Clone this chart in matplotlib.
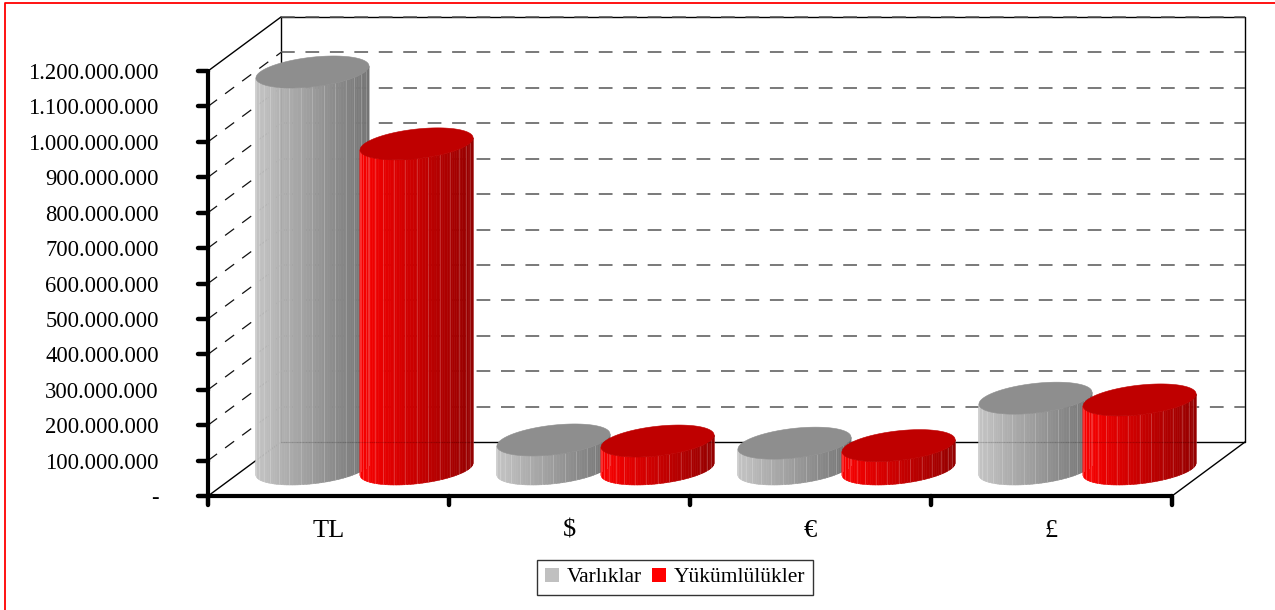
import numpy as np
import matplotlib
matplotlib.use('Agg')
import matplotlib.pyplot as plt
from matplotlib.collections import PolyCollection
from matplotlib.colors import to_rgb
from matplotlib.lines import Line2D
from matplotlib.markers import MarkerStyle, TICKDOWN, TICKLEFT
from matplotlib.patches import Patch, Polygon

plt.rcParams['font.family'] = ['Liberation Serif', 'DejaVu Serif']

categories = ['TL', '$', '€', '£']
varliklar = [1121000000, 82000000, 73000000, 200000000]
yukumlulukler = [918000000, 79000000, 66000000, 195000000]
yticks = [0, 100000000, 200000000, 300000000, 400000000, 500000000, 600000000,
          700000000, 800000000, 900000000, 1000000000, 1100000000, 1200000000]
ylabels = ['-', '100.000.000', '200.000.000', '300.000.000', '400.000.000',
           '500.000.000', '600.000.000', '700.000.000', '800.000.000',
           '900.000.000', '1.000.000.000', '1.100.000.000', '1.200.000.000']

W, H = 1275, 610
L, R, T, B = 208, 1172, 71, 496
ymax = 1200000000
# pixels per data unit
px_x = (R - L) / len(categories)
px_y = (B - T) / ymax
# depth of the floor, as data units
depth_x = 73 / px_x
depth_y = 54 / px_y
# cylinder shape
rad_x = 52.4 / px_x
skew_x = 21.2 / px_x
rad_y = 16 / px_y
offsets = [-0.218, 0.214]

fig = plt.figure(figsize=(W / 100, H / 100), dpi=100)
ax = fig.add_axes([L / W, 1 - B / H, (R - L) / W, (B - T) / H])
ax.set_xlim(0, len(categories))
ax.set_ylim(0, ymax)
ax.patch.set_alpha(0)

# only the top and left of the red frame are inside the picture
fig.add_artist(Line2D([4.5 / W, 4.5 / W, 1], [0, 1 - 2.5 / H, 1 - 2.5 / H], transform=fig.transFigure,
                      color='#ff0000', lw=1.3))


def wall_lines():
    for v in yticks[1:-1]:
        ax.plot([0, depth_x], [v, v + depth_y], color='#111111', lw=0.9, dashes=(9, 8),
                clip_on=False, zorder=1)
    for v in yticks[1:]:
        ax.plot([depth_x, len(categories) + depth_x], [v + depth_y, v + depth_y], color='#555555',
                lw=1.1, dashes=(9, 7), clip_on=False, zorder=1)


def ellipse_pt(t, cx, cy):
    return cx + rad_x * np.cos(t) + skew_x * np.sin(t), cy + rad_y * np.sin(t)


def cylinder(xc, value, light, dark, top, boost):
    base = depth_y / 2
    # strips along the front half, left silhouette to right silhouette
    t0 = np.arctan2(skew_x, rad_x)
    ts = np.linspace(t0 + np.pi, t0 + 2 * np.pi, 61)
    polys = []
    cols = []
    for i in range(60):
        x1, y1 = ellipse_pt(ts[i], xc, base)
        x2, y2 = ellipse_pt(ts[i + 1], xc, base)
        x3, y3 = ellipse_pt(ts[i + 1], xc, base + value)
        x4, y4 = ellipse_pt(ts[i], xc, base + value)
        polys.append([(x1, y1), (x2, y2), (x3, y3), (x4, y4)])
        f = (x1 - (xc - rad_x - skew_x)) / (2 * (rad_x + skew_x))
        f = np.clip(f, 0, 1)
        # brightest a little right of the left edge
        if f < 0.1:
            c = np.array(boost) + (np.array(light) - np.array(boost)) * f / 0.1
        else:
            c = np.array(light) + (np.array(dark) - np.array(light)) * ((f - 0.1) / 0.9) ** 0.95
        cols.append(c)
    ax.add_collection(PolyCollection(polys, facecolors=cols, edgecolors=cols, linewidths=0.4,
                                     clip_on=False, zorder=3), autolim=False)
    # pale seams between the facets
    for k in range(2, 60, 4):
        x1, y1 = ellipse_pt(ts[k], xc, base)
        x2, y2 = ellipse_pt(ts[k], xc, base + value)
        ax.plot([x1, x2], [y1, y2], color='white', lw=0.6, alpha=0.22, clip_on=False, zorder=3.1)
    tt = np.linspace(0, 2 * np.pi, 121)
    ex, ey = ellipse_pt(tt, xc, base + value)
    ax.add_patch(Polygon(np.column_stack([ex, ey]), closed=True, facecolor=top, edgecolor=top,
                         linewidth=0.4, clip_on=False, zorder=3.2))


# back wall and floor outline
n = len(categories)
ax.plot([depth_x, depth_x, n + depth_x, n + depth_x, depth_x],
        [depth_y, ymax + depth_y, ymax + depth_y, depth_y, depth_y],
        color='black', lw=1.0, clip_on=False, zorder=1)
ax.plot([0, depth_x], [0, depth_y], color='black', lw=1.0, clip_on=False, zorder=1)
ax.plot([n, n + depth_x], [0, depth_y], color='black', lw=1.0, clip_on=False, zorder=1)
ax.plot([0, depth_x], [ymax, ymax + depth_y], color='black', lw=1.0, clip_on=False, zorder=1)
wall_lines()

grey_l = to_rgb('#c6c6c6')
grey_d = to_rgb('#686868')
grey_b = to_rgb('#b4b4b4')
red_l = to_rgb('#ff0000')
red_d = to_rgb('#850000')
red_b = to_rgb('#e60000')
for i in range(n):
    cylinder(i + 0.5 + offsets[0] + depth_x / 2, varliklar[i], grey_l, grey_d, '#8e8e8e', grey_b)
    cylinder(i + 0.5 + offsets[1] + depth_x / 2, yukumlulukler[i], red_l, red_d, '#bf0000', red_b)

# floor line shows faintly through the cylinders
ax.plot([depth_x, n + depth_x], [depth_y, depth_y], color='black', lw=0.8, alpha=0.13,
        clip_on=False, zorder=3.15)

ax.set_yticks(yticks)
ax.set_yticklabels(ylabels)
ax.set_xticks(range(n + 1))
ax.set_xticklabels([])
ax.set_xticks(np.arange(n) + 0.5, minor=True)
ax.set_xticklabels(categories, minor=True)
ax.tick_params(axis='y', which='major', length=7, width=3.2, pad=28.5, labelsize=16.3)
ax.tick_params(axis='x', which='major', length=6.5, width=3.2)
ax.tick_params(axis='x', which='minor', length=0, pad=17, labelsize=19)
for side in ['top', 'right']:
    ax.spines[side].set_visible(False)
for side in ['left', 'bottom']:
    ax.spines[side].set_linewidth(3.0)
    ax.spines[side].set_capstyle('round')
for tick in ax.yaxis.get_major_ticks():
    tick.tick1line.set_marker(MarkerStyle(TICKLEFT, capstyle='round'))
for tick in ax.xaxis.get_major_ticks():
    tick.tick1line.set_marker(MarkerStyle(TICKDOWN, capstyle='round'))

handles = [Patch(facecolor='#c0c0c0', label='Varlıklar'), Patch(facecolor='#ff0000', label='Yükümlülükler')]
leg = fig.legend(handles=handles, loc='center', bbox_to_anchor=(675 / W, 1 - 577.5 / H), ncol=2,
                 fontsize=15.5, frameon=True, fancybox=False, edgecolor='#333333', framealpha=1,
                 handlelength=0.65, handleheight=0.65, handletextpad=0.35, columnspacing=0.5,
                 borderpad=0.35, borderaxespad=0)
leg.get_frame().set_linewidth(1.0)

fig.savefig('out.png', dpi=100)
